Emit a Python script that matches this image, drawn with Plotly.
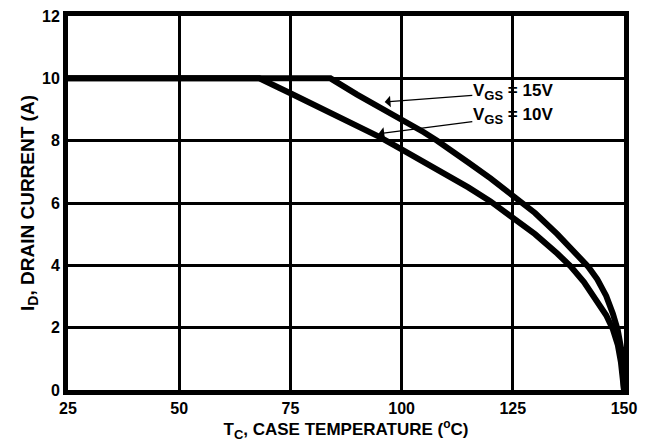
import plotly.graph_objects as go

# Data
t_15v = [25, 84, 90, 95, 100, 105, 108, 110, 115, 120, 125, 130, 135, 138, 140, 142, 144, 146, 147.5, 148.6, 149.4, 149.8, 150]
i_15v = [10, 10, 9.48, 9.08, 8.72, 8.27, 8.0, 7.81, 7.3, 6.79, 6.26, 5.68, 5.0, 4.57, 4.27, 3.95, 3.55, 3.02, 2.45, 1.92, 1.3, 0.7, 0]

t_10v = [25, 68, 75, 80, 85, 90, 95, 100, 105, 110, 115, 120, 125, 130, 135, 138, 141, 144, 146, 147.5, 148.6, 149.3, 149.7, 150]
i_10v = [10, 10, 9.52, 9.17, 8.82, 8.48, 8.12, 7.72, 7.33, 6.92, 6.5, 6.05, 5.55, 5.0, 4.38, 3.97, 3.46, 2.87, 2.4, 1.95, 1.45, 0.9, 0.45, 0]

x_ticks = [25, 50, 75, 100, 125, 150]
y_ticks = [0, 2, 4, 6, 8, 10, 12]

FONT = "Liberation Sans, Arial, sans-serif"
SUB = "<sub><span style='font-size:{}px'>{}</span></sub>"
SUP = "<sup><span style='font-size:{}px'>{}</span></sup>"

fig = go.Figure()
fig.add_trace(go.Scatter(x=t_15v, y=i_15v, mode="lines",
                         line=dict(color="black", width=6), showlegend=False))
fig.add_trace(go.Scatter(x=t_10v, y=i_10v, mode="lines",
                         line=dict(color="black", width=6), showlegend=False))

axis_common = dict(showgrid=True, gridcolor="black", gridwidth=3,
                   showline=True, linecolor="black", linewidth=5, mirror=True,
                   zeroline=False, ticks="",
                   tickfont=dict(family=FONT, size=16, color="black", weight="bold"))

fig.update_xaxes(range=[25, 150], tickvals=x_ticks, **axis_common,
                 title=dict(text="T" + SUB.format(13, "C") + ", CASE TEMPERATURE (" + SUP.format(12, "o") + "C)",
                            font=dict(family=FONT, size=17, color="black", weight="bold"),
                            standoff=8))
fig.update_yaxes(range=[0, 12], tickvals=y_ticks, **axis_common,
                 title=dict(text="I" + SUB.format(14, "D") + ", DRAIN CURRENT (A)",
                            font=dict(family=FONT, size=19, color="black", weight="bold"),
                            standoff=4))

labels = [("V" + SUB.format(13, "GS") + " = 15V", 96.2, 9.24, 125.0, 9.55),
          ("V" + SUB.format(13, "GS") + " = 10V", 94.8, 8.22, 125.0, 8.78)]
for txt, hx, hy, tx, ty in labels:
    fig.add_annotation(x=hx, y=hy, ax=tx, ay=ty, axref="x", ayref="y", text=txt,
                       showarrow=True, arrowhead=1, arrowsize=1.6, arrowwidth=1.2,
                       arrowcolor="black", borderpad=0,
                       font=dict(family=FONT, size=17, color="black", weight="bold"))

fig.update_layout(width=645, height=447, margin=dict(l=68, r=15, t=8, b=57),
                  plot_bgcolor="white", paper_bgcolor="white")

fig.write_html("out.html")
